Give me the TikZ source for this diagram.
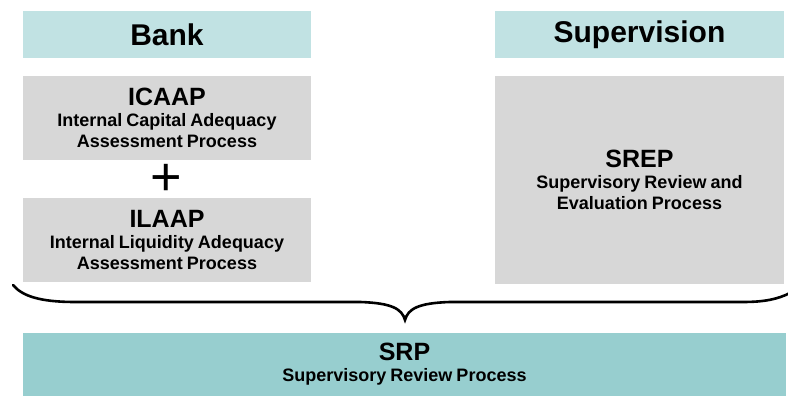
\documentclass[tikz,border=0pt]{standalone}
\usepackage{fontspec}
\setmainfont{Liberation Sans}[WordSpace=0.8]
\usetikzlibrary{positioning}
\definecolor{headcol}{HTML}{C1E2E3}
\definecolor{proccol}{HTML}{D7D7D7}
\definecolor{srpcol}{HTML}{97CECF}
\newcommand{\bigtitle}[1]{{\fontsize{25}{28}\selectfont #1}}
\tikzset{
  headbox/.style={fill=headcol,minimum width=288pt,minimum height=47pt,inner sep=0pt,font=\fontsize{30}{32}\selectfont\bfseries},
  procbox/.style={fill=proccol,minimum width=288pt,inner sep=0pt,align=center,font=\fontsize{18}{21}\selectfont\bfseries}
}

\begin{document}
\begin{tikzpicture}[x=1pt,y=1pt]
		\useasboundingbox (0,0) rectangle (788,396);
		\node (bank) at (167,361.5) [headbox] {Bank};
		\node (superv) at (639.5,361.5) [headbox,minimum width=289pt] {Supervision};
		\node (icaap) at (167,278) [procbox,minimum height=84pt]
		{\bigtitle{ICAAP}\\ Internal Capital Adequacy\\ Assessment Process};
		\node (plus) at (166.5,216.5) [inner sep=0pt] {\fontsize{54}{54}\selectfont +};
		\node (ilaap) at (167,156) [procbox,minimum height=84pt]
		{\bigtitle{ILAAP}\\ Internal Liquidity Adequacy\\ Assessment Process};
		\node (srep) at (639.5,216) [procbox,minimum width=289pt,minimum height=208pt]
		{\bigtitle{SREP}\\ Supervisory Review and\\ Evaluation Process};
		% brace under the boxes
		\coordinate (brl) at (13,111);
		\coordinate (brtip) at (405,76);
		\coordinate (brr) at (790,103);
		\draw[line width=2.6pt,line cap=round] (brl) .. controls (22,100) and (40,94) .. (75,94)
		  -- (360,94) .. controls (392,93) and (402,87) .. (brtip)
		  .. controls (408,87) and (418,93) .. (450,94)
		  -- (743,94) .. controls (765,94) and (778,97) .. (brr);
		\node (srp) at (404.5,31.5) [procbox,fill=srpcol,minimum width=763pt,minimum height=63pt]
		{\bigtitle{SRP}\\ Supervisory Review Process};
	\end{tikzpicture}
\end{document}
